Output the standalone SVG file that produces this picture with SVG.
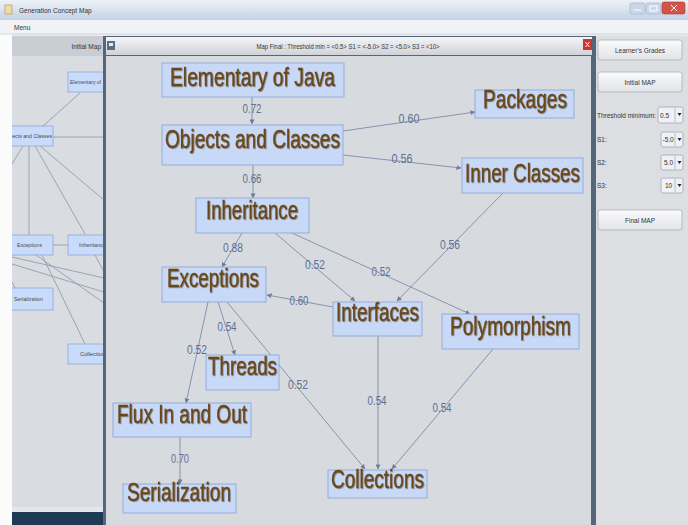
<svg xmlns="http://www.w3.org/2000/svg" width="688" height="525" viewBox="0 0 688 525">
<defs>
<style>
.node rect{fill:#c8d9f8;stroke:#93abd8;stroke-width:1}
.node text{font-family:"Liberation Sans",Arial,sans-serif;font-size:25px;fill:#6b4716;stroke:#6b4716;stroke-width:0.35;text-anchor:middle;filter:url(#sh)}
.edge{stroke:#8794af;stroke-width:1;fill:none;marker-end:url(#arr)}
.lbl{font-family:"Liberation Sans",Arial,sans-serif;font-size:12px;fill:#5e6e92;text-anchor:middle}
.ui{font-family:"Liberation Sans",Arial,sans-serif;font-size:6.5px;fill:#333}
.lnode rect{fill:#c8dbfa;stroke:#8ea8d6;stroke-width:0.8}
.lnode text{font-family:"Liberation Sans",Arial,sans-serif;font-size:6px;fill:#4a4a4a}
.ledge{stroke:#8a96ab;stroke-width:0.8;fill:none}
.btn rect{fill:url(#btng);stroke:#a9aeb6;stroke-width:0.8}
.btn text{font-family:"Liberation Sans",Arial,sans-serif;font-size:6.5px;fill:#333;text-anchor:middle}
.combo rect.c{fill:#eef1f5;stroke:#9ea6b2;stroke-width:0.8}
.combo text{font-family:"Liberation Sans",Arial,sans-serif;font-size:6.5px;fill:#333}
</style>
<filter id="sh" x="-5%" y="-20%" width="110%" height="140%">
<feDropShadow dx="0.8" dy="0.8" stdDeviation="0.7" flood-color="#3b2a12" flood-opacity="0.5"/>
</filter>
<marker id="arr" viewBox="0 0 6 6" refX="5.5" refY="3" markerWidth="5" markerHeight="5" markerUnits="userSpaceOnUse" orient="auto">
<path d="M0,0 L6,3 L0,6 z" fill="#6f7e9e"/>
</marker>
<linearGradient id="titleg" x1="0" y1="0" x2="0" y2="1">
<stop offset="0" stop-color="#edf2f8"/><stop offset="1" stop-color="#c3d2e4"/>
</linearGradient>
<linearGradient id="frameg" x1="0" y1="0" x2="0" y2="1">
<stop offset="0" stop-color="#f3f4f6"/><stop offset="1" stop-color="#cfd3d9"/>
</linearGradient>
<linearGradient id="btng" x1="0" y1="0" x2="0" y2="1">
<stop offset="0" stop-color="#fbfbfc"/><stop offset="1" stop-color="#e1e3e7"/>
</linearGradient>
<clipPath id="lclip"><rect x="12" y="56" width="91" height="452"/></clipPath>
</defs>

<!-- window chrome -->
<g id="window">
<rect x="0" y="0" width="688" height="525" fill="#e8eaee"/>
<rect x="0" y="0" width="12" height="525" fill="#fbfbfc"/>
<rect x="0" y="0" width="688" height="20" fill="url(#titleg)"/>
<rect x="5" y="5" width="7" height="9" fill="#f3d9a8" stroke="#c08a3a" stroke-width="0.6"/>
<text class="ui" x="19" y="12.5">Generation Concept Map</text>
<rect x="630" y="3" width="15" height="11" rx="2" fill="#c9d7e8" stroke="#9fb0c6" stroke-width="0.6"/>
<rect x="646" y="3" width="15" height="11" rx="2" fill="#c9d7e8" stroke="#9fb0c6" stroke-width="0.6"/>
<rect x="662" y="2" width="23" height="12" rx="2" fill="#d4534a" stroke="#a33a33" stroke-width="0.6"/>
<path d="M634,10 h7 M650,6 h7 v5 h-7 z M671,5 l6,6 M677,5 l-6,6" stroke="#ffffff" stroke-width="1" fill="none"/>
<rect x="0" y="20" width="688" height="14" fill="#f1f2f5"/>
<text class="ui" x="14" y="30">Menu</text>
<line x1="0" y1="34" x2="688" y2="34" stroke="#d3d6db"/>
</g>

<!-- left panel (initial map) -->
<g id="left-panel">
<rect x="12" y="36" width="92" height="489" fill="#d9dce1"/>
<rect x="12" y="36" width="92" height="20" fill="#c9cdd4"/>
<text class="ui" x="101" y="49" text-anchor="end" fill="#8a8e96">Initial Map</text>
<g clip-path="url(#lclip)">
<g id="left-connectors">
<path class="ledge" d="M80,93 L43,126 M53,137 L104,137 M29,146 L29,235 M35,146 L85,234 M40,146 L104,200 M23,146 L12,164 M53,245 L68,245 M12,257 L104,278 M12,264 L104,292 M36,255 L104,303 M42,255 L85,344 M95,255 L104,272 M12,282 L15,288"/>
</g>
<g id="l-elementary" class="lnode"><rect x="68" y="72" width="45" height="20"/><text x="70" y="84" textLength="31" lengthAdjust="spacingAndGlyphs">Elementary of</text></g>
<g id="l-objects" class="lnode"><rect x="6" y="126" width="47" height="20"/><text x="52" y="138" text-anchor="end" textLength="48" lengthAdjust="spacingAndGlyphs">Objects and Classes</text></g>
<g id="l-exceptions" class="lnode"><rect x="6" y="235" width="47" height="20"/><text x="17" y="247" textLength="25" lengthAdjust="spacingAndGlyphs">Exceptions</text></g>
<g id="l-inheritance" class="lnode"><rect x="68" y="235" width="45" height="20"/><text x="79" y="247" textLength="27" lengthAdjust="spacingAndGlyphs">Inheritance</text></g>
<g id="l-serialization" class="lnode"><rect x="6" y="288" width="47" height="22"/><text x="14" y="301" textLength="29" lengthAdjust="spacingAndGlyphs">Serialization</text></g>
<g id="l-collections" class="lnode"><rect x="68" y="344" width="45" height="20"/><text x="80" y="356" textLength="28" lengthAdjust="spacingAndGlyphs">Collections</text></g>
</g>
<rect x="12" y="507" width="92" height="5" fill="#e4e6ea"/>
<rect x="12" y="512" width="92" height="13" fill="#1e3a54"/>
</g>

<!-- main frame -->
<g id="main-frame">
<rect x="103" y="36" width="493" height="489" fill="#55667a"/>
<rect x="106" y="37" width="486" height="18" fill="url(#frameg)"/>
<rect x="106" y="56" width="485" height="469" fill="#d7dadf"/>
<rect x="107" y="41" width="8" height="9" fill="#5d6e84"/>
<rect x="109" y="43" width="4" height="3" fill="#e6eaf0"/>
<rect x="583" y="39" width="9" height="11" fill="#c9382d"/>
<path d="M585.5,42 l4,5 M589.5,42 l-4,5" stroke="#fff" stroke-width="1"/>
<text class="ui" x="348" y="49" text-anchor="middle" textLength="183" lengthAdjust="spacingAndGlyphs" fill="#222">Map Final : Threshold min = &lt;0.5&gt; S1 = &lt;-5.0&gt; S2 = &lt;5.0&gt; S3 = &lt;10&gt;</text>
</g>

<!-- right panel -->
<g id="right-panel">
<rect x="596" y="36" width="92" height="489" fill="#dcdee2"/>
<g class="btn" id="btn-grades"><rect x="598" y="40" width="84" height="20" rx="2"/><text x="640" y="52.5">Learner's Grades</text></g>
<g class="btn" id="btn-initial"><rect x="598" y="72" width="84" height="20" rx="2"/><text x="640" y="84.5">Initial MAP</text></g>
<text class="ui" x="597" y="118">Threshold minimum:</text>
<g class="combo" id="combo-th"><rect class="c" x="658" y="107" width="25" height="16" rx="2"/><line x1="675" y1="108" x2="675" y2="122" stroke="#b5bcc6"/><text x="660" y="118">0.5</text><path d="M677.5,113 h4 l-2,3 z" fill="#223"/></g>
<text class="ui" x="597" y="142">S1:</text>
<g class="combo" id="combo-s1"><rect class="c" x="661" y="132" width="22" height="15" rx="2"/><line x1="675" y1="133" x2="675" y2="146" stroke="#b5bcc6"/><text x="662.5" y="142">-5.0</text><path d="M677.5,138 h4 l-2,3 z" fill="#223"/></g>
<text class="ui" x="597" y="165">S2:</text>
<g class="combo" id="combo-s2"><rect class="c" x="661" y="155" width="22" height="15" rx="2"/><line x1="675" y1="156" x2="675" y2="169" stroke="#b5bcc6"/><text x="664" y="165">5.0</text><path d="M677.5,161 h4 l-2,3 z" fill="#223"/></g>
<text class="ui" x="597" y="188">S3:</text>
<g class="combo" id="combo-s3"><rect class="c" x="661" y="178" width="22" height="15" rx="2"/><line x1="675" y1="179" x2="675" y2="192" stroke="#b5bcc6"/><text x="665" y="188">10</text><path d="M677.5,184 h4 l-2,3 z" fill="#223"/></g>
<g class="btn" id="btn-final"><rect x="598" y="210" width="84" height="20" rx="2"/><text x="640" y="222.5">Final MAP</text></g>
</g>

<!-- connectors -->
<g id="connectors">
<path class="edge" d="M252,97 L252,124"/>
<path class="edge" d="M343,131 L475,112"/>
<path class="edge" d="M343,155 L461,168"/>
<path class="edge" d="M253,165 L253,198"/>
<path class="edge" d="M242,233 L222,267"/>
<path class="edge" d="M275,233 L355,301"/>
<path class="edge" d="M292,233 L470,314"/>
<path class="edge" d="M503,193 L397,301"/>
<path class="edge" d="M333,307 L267,295"/>
<path class="edge" d="M218,302 L235,355"/>
<path class="edge" d="M208,302 L186,403"/>
<path class="edge" d="M227,302 L365,469"/>
<path class="edge" d="M378,336 L378,469"/>
<path class="edge" d="M493,349 L392,469"/>
<path class="edge" d="M180,437 L180,484"/>
<g id="edge-labels">
<text class="lbl" x="252" y="113" textLength="19" lengthAdjust="spacingAndGlyphs">0.72</text>
<text class="lbl" x="409" y="123" textLength="21" lengthAdjust="spacingAndGlyphs">0.60</text>
<text class="lbl" x="402" y="163" textLength="21" lengthAdjust="spacingAndGlyphs">0.56</text>
<text class="lbl" x="252" y="183" textLength="19" lengthAdjust="spacingAndGlyphs">0.66</text>
<text class="lbl" x="233" y="252" textLength="20" lengthAdjust="spacingAndGlyphs">0.88</text>
<text class="lbl" x="315" y="269" textLength="20" lengthAdjust="spacingAndGlyphs">0.52</text>
<text class="lbl" x="381" y="276" textLength="19" lengthAdjust="spacingAndGlyphs">0.52</text>
<text class="lbl" x="450" y="249" textLength="20" lengthAdjust="spacingAndGlyphs">0.56</text>
<text class="lbl" x="299" y="305" textLength="19" lengthAdjust="spacingAndGlyphs">0.60</text>
<text class="lbl" x="227" y="331" textLength="19" lengthAdjust="spacingAndGlyphs">0.54</text>
<text class="lbl" x="197" y="354" textLength="20" lengthAdjust="spacingAndGlyphs">0.52</text>
<text class="lbl" x="298" y="389" textLength="20" lengthAdjust="spacingAndGlyphs">0.52</text>
<text class="lbl" x="377" y="405" textLength="19" lengthAdjust="spacingAndGlyphs">0.54</text>
<text class="lbl" x="442" y="412" textLength="19" lengthAdjust="spacingAndGlyphs">0.54</text>
<text class="lbl" x="180" y="463" textLength="18" lengthAdjust="spacingAndGlyphs">0.70</text>
</g>
</g>

<!-- nodes -->
<g id="n-elementary" class="node"><rect x="162" y="63" width="182" height="34"/><text x="252.5" y="86" textLength="165" lengthAdjust="spacingAndGlyphs">Elementary of Java</text></g>
<g id="n-objects" class="node"><rect x="162" y="125" width="181" height="40"/><text x="252.5" y="148" textLength="175" lengthAdjust="spacingAndGlyphs">Objects and Classes</text></g>
<g id="n-packages" class="node"><rect x="475" y="90" width="99" height="28"/><text x="525" y="108" textLength="84" lengthAdjust="spacingAndGlyphs">Packages</text></g>
<g id="n-inner" class="node"><rect x="462" y="158" width="121" height="35"/><text x="522.5" y="182" textLength="115" lengthAdjust="spacingAndGlyphs">Inner Classes</text></g>
<g id="n-inheritance" class="node"><rect x="196" y="198" width="113" height="35"/><text x="252" y="219" textLength="92" lengthAdjust="spacingAndGlyphs">Inheritance</text></g>
<g id="n-exceptions" class="node"><rect x="162" y="267" width="104" height="35"/><text x="213" y="287" textLength="92" lengthAdjust="spacingAndGlyphs">Exceptions</text></g>
<g id="n-interfaces" class="node"><rect x="333" y="302" width="89" height="34"/><text x="377.5" y="321" textLength="83" lengthAdjust="spacingAndGlyphs">Interfaces</text></g>
<g id="n-polymorphism" class="node"><rect x="442" y="314" width="137" height="35"/><text x="510.5" y="335" textLength="121" lengthAdjust="spacingAndGlyphs">Polymorphism</text></g>
<g id="n-threads" class="node"><rect x="206" y="355" width="73" height="35"/><text x="242.5" y="375" textLength="69" lengthAdjust="spacingAndGlyphs">Threads</text></g>
<g id="n-flux" class="node"><rect x="113" y="403" width="138" height="34"/><text x="182" y="423" textLength="130" lengthAdjust="spacingAndGlyphs">Flux In and Out</text></g>
<g id="n-serialization" class="node"><rect x="123" y="484" width="113" height="29"/><text x="179" y="501" textLength="104" lengthAdjust="spacingAndGlyphs">Serialization</text></g>
<g id="n-collections" class="node"><rect x="328" y="470" width="99" height="28"/><text x="377.5" y="488" textLength="93" lengthAdjust="spacingAndGlyphs">Collections</text></g>
</svg>
